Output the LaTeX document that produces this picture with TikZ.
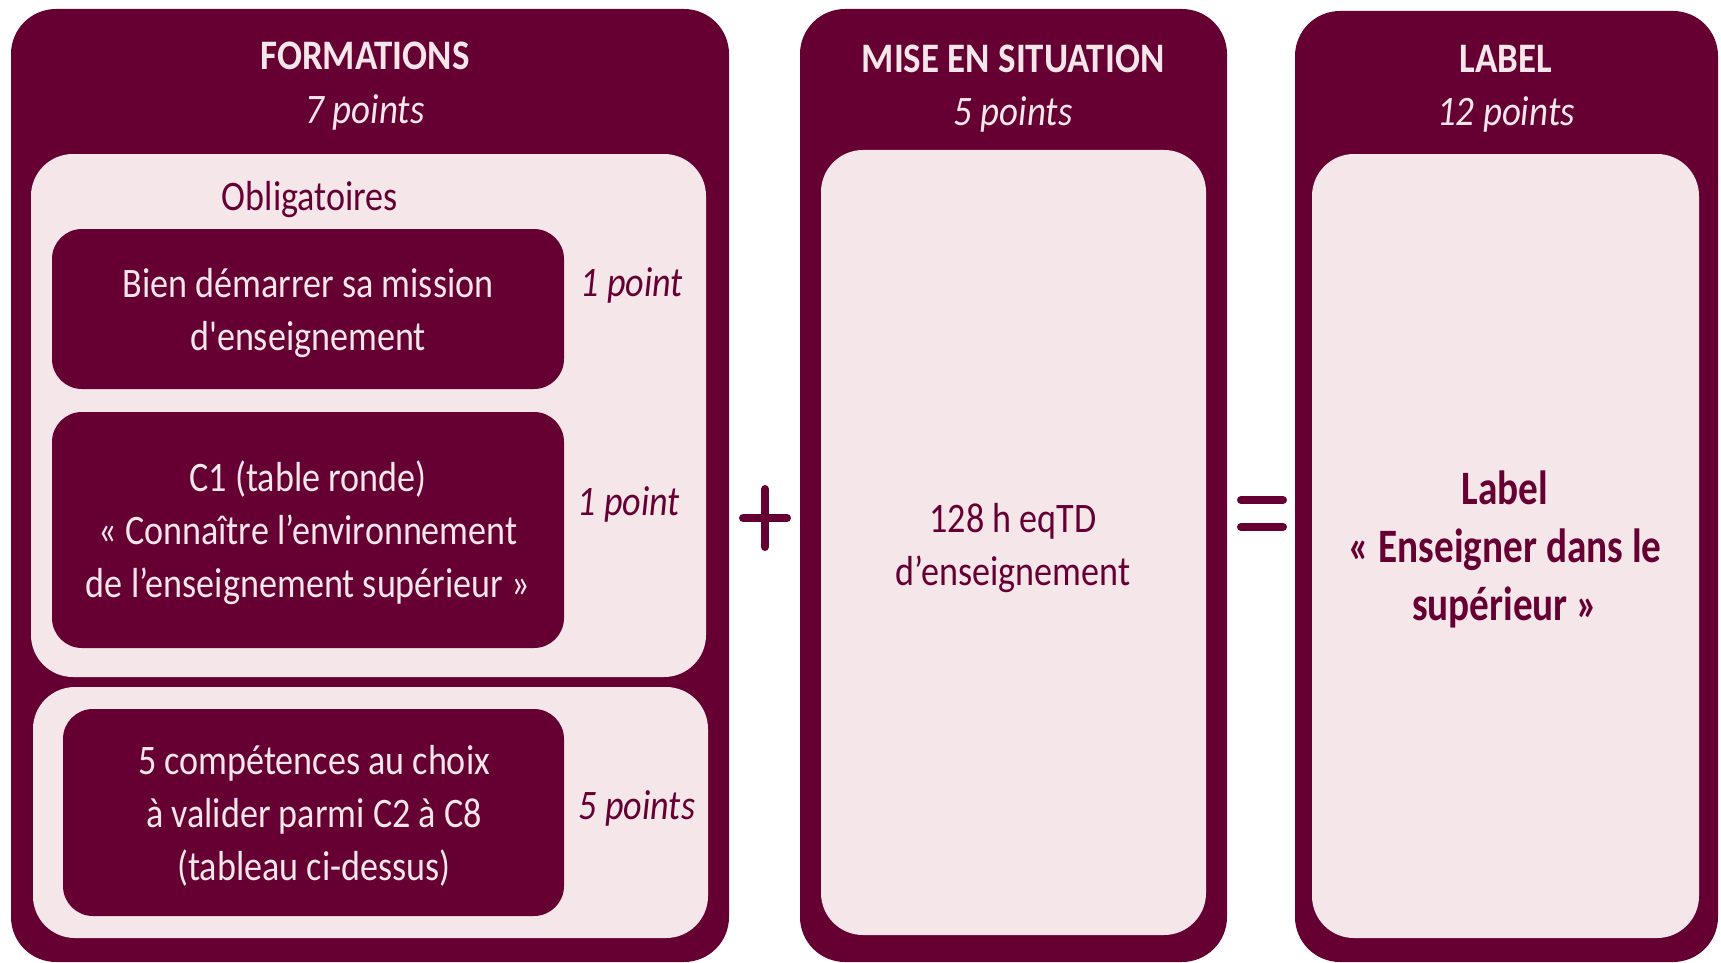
\documentclass[tikz,border=0pt]{standalone}
\usepackage{fontspec}
\setmainfont{Carlito}[Ligatures=TeXOff]
\definecolor{wine}{HTML}{660033}
\definecolor{blush}{HTML}{F5E6EA}

\begin{document}
\begin{tikzpicture}[x=1pt,y=-1pt,
  panel/.style={fill=wine, draw=none, rounded corners=45pt, inner sep=0pt, outer sep=0pt, anchor=north west},
  well/.style={fill=blush, draw=none, rounded corners=42pt, inner sep=0pt, outer sep=0pt, anchor=north west},
  chip/.style={fill=wine, draw=none, rounded corners=30pt, inner sep=0pt, outer sep=0pt, anchor=north west},
  txt/.style={inner sep=0pt, align=center, xscale=0.86, font=\fontsize{42}{53}\selectfont},
  headtxt/.style={txt, xscale=1.023, text=blush, font=\fontsize{42}{50}\selectfont\bfseries},
  ptstxt/.style={txt, xscale=1.023, text=blush, font=\fontsize{42}{50}\selectfont\itshape},
  chiptxt/.style={txt, text=blush},
  sidetxt/.style={txt, text=wine, font=\fontsize{42}{53}\selectfont\itshape},
  welltxt/.style={txt, text=wine},
  labeltxt/.style={txt, xscale=0.95, text=wine, font=\fontsize{48}{58}\selectfont\bfseries},
  sign/.style={draw=wine, line width=8pt, line cap=round}
]
\useasboundingbox (0,0) rectangle (1721,963);

% --- left column: training ---
\node[panel, minimum width=718pt, minimum height=953pt] (formations) at (11,9) {};
\node[headtxt] (formtitle) at (365,56) {FORMATIONS};
\node[ptstxt] (formpts) at (365,112) {7 points};

\node[well, minimum width=675pt, minimum height=523pt] (oblig) at (31,154) {};
\node[welltxt] (obligtitle) at (310,200) {Obligatoires};

\node[chip, minimum width=512pt, minimum height=160pt] (bien) at (52,229) {};
\node[chiptxt] (bientxt) at (308,313) {Bien démarrer sa mission\\d'enseignement};
\node[sidetxt] (bienpts) at (632,285) {1 point};

\node[chip, minimum width=512pt, minimum height=236pt] (cone) at (52,412) {};
\node[chiptxt] (conetxt) at (308,533) {C1 (table ronde)\\« Connaître l’environnement\\de l’enseignement supérieur »};
\node[sidetxt] (conepts) at (629,504) {1 point};

\node[well, minimum width=675pt, minimum height=251pt] (choix) at (33,687) {};
\node[chip, minimum width=501pt, minimum height=207pt] (comp) at (63,709) {};
\node[chiptxt] (comptxt) at (314,816) {5 compétences au choix\\à valider parmi C2 à C8\\(tableau ci-dessus)};
\node[sidetxt] (comppts) at (637,808) {5 points};

% plus sign
\coordinate (plusc) at (765,518);
\draw[sign] ([yshift=-29pt]plusc) -- ([yshift=29pt]plusc);
\draw[sign] ([xshift=-22pt]plusc) -- ([xshift=22pt]plusc);

% --- middle column: teaching practice ---
\node[panel, minimum width=427pt, minimum height=953pt] (mise) at (800,9) {};
\node[headtxt] (misetitle) at (1013,59) {MISE EN SITUATION};
\node[ptstxt] (misepts) at (1013,114) {5 points};
\node[well, minimum width=385pt, minimum height=785pt] (misewell) at (821,150) {};
\node[welltxt] (misetxt) at (1013,548) {128 h eqTD\\d’enseignement};

% equals sign
\coordinate (eqc) at (1262,514);
\draw[sign] ([xshift=-21pt,yshift=-13pt]eqc) -- ([xshift=21pt,yshift=-13pt]eqc);
\draw[sign] ([xshift=-21pt,yshift=14pt]eqc) -- ([xshift=21pt,yshift=14pt]eqc);

% --- right column: label ---
\node[panel, minimum width=423pt, minimum height=951pt] (label) at (1295,11) {};
\node[headtxt] (labeltitle) at (1506,59) {LABEL};
\node[ptstxt] (labelpts) at (1506,114) {12 points};
\node[well, minimum width=387pt, minimum height=784pt] (labelwell) at (1312,154) {};
\node[labeltxt] (labeltext) at (1505,549) {Label\\« Enseigner dans le\\supérieur »};
\end{tikzpicture}
\end{document}
